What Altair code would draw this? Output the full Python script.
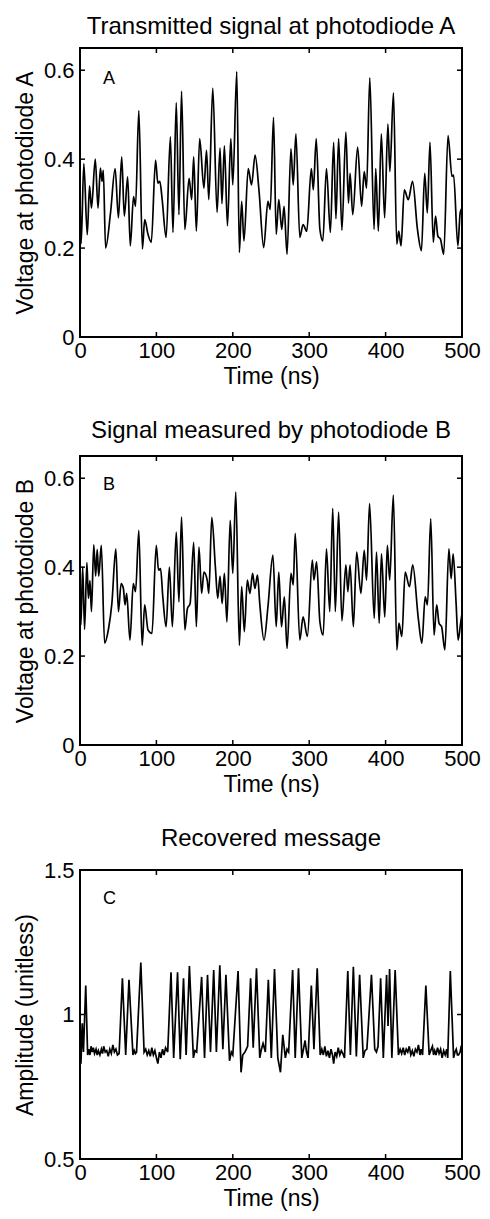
import altair as alt
import pandas as pd

# ---------------- data ----------------
X_TICKS = [0, 100, 200, 300, 400, 500]
Y_TICKS_AB = [0, 0.2, 0.4, 0.6]
Y_TICKS_C = [0.5, 1, 1.5]

PANEL_TITLES = ["Transmitted signal at photodiode A",
                "Signal measured by photodiode B",
                "Recovered message"]
Y_TITLES = ["Voltage at photodiode A", "Voltage at photodiode B", "Amplitude (unitless)"]
X_TITLE = "Time (ns)"
LETTERS = ["A", "B", "C"]

# (time ns, voltage) for photodiode A
SIGNAL_A = [
    (0, 0.32), (1.5, 0.21), (5, 0.39), (9.5, 0.23), (12.5, 0.34), (15, 0.29), (20, 0.40),
    (23.6, 0.29), (26.7, 0.38), (28.8, 0.35), (30.5, 0.375), (33.5, 0.20), (40, 0.28),
    (46, 0.379), (50.3, 0.268), (54.6, 0.405), (58, 0.272), (62.4, 0.36), (65.8, 0.205),
    (70.1, 0.316), (72.7, 0.294), (77, 0.509), (81.7, 0.198), (84.7, 0.264), (89, 0.231),
    (93.3, 0.213), (98.9, 0.398), (101.9, 0.346), (104.5, 0.35), (107.5, 0.31), (112.7, 0.224),
    (118.3, 0.45), (121.7, 0.235), (126, 0.527), (129.5, 0.275), (132.9, 0.553), (137.2, 0.242),
    (142.8, 0.357), (146.2, 0.309), (148.8, 0.405), (152.3, 0.238), (156.6, 0.446), (162.2, 0.335),
    (165.6, 0.42), (168.6, 0.309), (173.8, 0.56), (179.4, 0.28), (183.3, 0.425), (185.8, 0.30),
    (189, 0.43), (193, 0.25), (197.4, 0.446), (200, 0.342), (205.2, 0.597), (208.6, 0.19),
    (211.6, 0.305), (214.6, 0.216), (220.2, 0.379), (224.5, 0.342), (229.2, 0.409), (234.4, 0.327),
    (240.4, 0.201), (246, 0.305), (249, 0.287), (253.3, 0.494), (256.8, 0.231), (260.2, 0.309),
    (264.1, 0.242), (267.1, 0.294), (271, 0.186), (276.1, 0.423), (279.1, 0.342), (282.6, 0.457),
    (287.7, 0.224), (292, 0.253), (296.8, 0.238), (302.8, 0.379), (305.4, 0.331), (309.2, 0.446),
    (314, 0.242), (317.8, 0.216), (322.6, 0.379), (327.7, 0.235), (332, 0.438), (335, 0.266),
    (338.5, 0.446), (342.8, 0.24), (348, 0.461), (351.4, 0.301), (353.5, 0.368), (357, 0.275),
    (363.4, 0.427), (368.6, 0.294), (372, 0.372), (375.1, 0.335), (379.3, 0.583), (384.9, 0.242),
    (387.1, 0.379), (390.5, 0.238), (394.4, 0.457), (398.7, 0.268), (403, 0.479), (405.6, 0.372),
    (410.3, 0.549), (414.6, 0.209), (417.2, 0.238), (420.2, 0.205), (424.5, 0.331), (429.7, 0.309),
    (435.3, 0.35), (441.7, 0.242), (446.9, 0.194), (451.2, 0.368), (454.6, 0.279), (458.1, 0.438),
    (462.4, 0.213), (465.4, 0.272), (468.4, 0.227), (471.8, 0.22), (476.1, 0.186), (481.7, 0.453),
    (486.9, 0.361), (489, 0.364), (494.6, 0.205), (497.6, 0.279), (500, 0.29),
]

# (time ns, voltage) for photodiode B
SIGNAL_B = [
    (0, 0.36), (1.2, 0.27), (3.5, 0.40), (6, 0.26), (9, 0.41), (11, 0.33), (13, 0.37), (15, 0.30),
    (18, 0.45), (20.5, 0.38), (22.5, 0.44), (24.5, 0.38), (27.9, 0.449), (32.2, 0.229),
    (37.4, 0.262), (41.7, 0.318), (46.9, 0.441), (50.3, 0.30), (53.8, 0.363), (56.8, 0.352),
    (58.9, 0.315), (61.1, 0.341), (65.4, 0.236), (69.7, 0.363), (72.7, 0.345), (77, 0.483),
    (81.3, 0.224), (84.7, 0.315), (89, 0.259), (94.2, 0.251), (99.8, 0.449), (102.8, 0.393),
    (105.4, 0.397), (108.4, 0.333), (112.7, 0.266), (117, 0.40), (120.9, 0.266), (126, 0.479),
    (129.5, 0.322), (132.9, 0.513), (137.2, 0.259), (140.6, 0.307), (144.1, 0.318), (148.8, 0.456),
    (152.3, 0.266), (155.7, 0.445), (159.2, 0.341), (162.2, 0.389), (166.5, 0.371), (168.6, 0.341),
    (172.5, 0.512), (177.2, 0.40), (180.3, 0.33), (183.3, 0.38), (186, 0.318), (189, 0.386),
    (192.3, 0.277), (196.6, 0.505), (200, 0.386), (203.9, 0.569), (208.6, 0.224), (211.6, 0.356),
    (215.1, 0.255), (219, 0.371), (222.4, 0.341), (225.9, 0.386), (228.9, 0.352), (232.3, 0.382),
    (235.3, 0.318), (240.9, 0.236), (246, 0.311), (252.5, 0.427), (256.8, 0.266), (260.2, 0.389),
    (263.7, 0.266), (267.5, 0.333), (271, 0.217), (276.1, 0.386), (279.1, 0.36), (281.7, 0.476),
    (287.7, 0.236), (292, 0.288), (297.6, 0.244), (304.1, 0.416), (306.2, 0.371), (309.7, 0.412),
    (314, 0.277), (318.3, 0.247), (322.6, 0.441), (326.9, 0.30), (330.8, 0.532), (334.2, 0.30),
    (338.5, 0.524), (342.8, 0.279), (348, 0.405), (350.6, 0.345), (353.5, 0.405), (357.8, 0.266),
    (362.1, 0.434), (367.7, 0.341), (372, 0.438), (375.1, 0.371), (379, 0.543), (385.1, 0.285),
    (388.1, 0.434), (391.6, 0.274), (394.6, 0.43), (398.9, 0.288), (402.3, 0.449), (405.4, 0.371),
    (410.1, 0.562), (414.8, 0.214), (417.4, 0.274), (421.3, 0.244), (425.6, 0.389), (431.2, 0.356),
    (435.5, 0.405), (442.8, 0.285), (447.5, 0.229), (451.8, 0.333), (454.8, 0.315), (459.1, 0.509),
    (463.4, 0.247), (466.9, 0.315), (469.9, 0.274), (473.3, 0.266), (477.6, 0.214), (482.8, 0.441),
    (485.8, 0.374), (488.4, 0.43), (492.3, 0.318), (494.9, 0.236), (497.9, 0.27), (500, 0.296),
]

# (time ns, amplitude) for the recovered message
SIGNAL_C = [
    (0, 1.0), (1.2, 0.83), (3, 0.97), (4.5, 0.87), (7.5, 1.10), (10, 0.86), (11.5, 0.88),
    (13, 0.86), (14.5, 0.89), (16, 0.87), (17.5, 0.885), (19, 0.865), (21, 0.88), (22.5, 0.86),
    (24, 0.875), (26, 0.86), (28, 0.88), (29.5, 0.865), (31, 0.89), (33, 0.87), (35, 0.875),
    (37, 0.855), (39, 0.88), (41, 0.865), (43, 0.895), (45, 0.87), (47, 0.88), (49, 0.86),
    (51.2, 0.865), (55.5, 1.125), (59.8, 0.86), (64.1, 1.12), (69.3, 0.86), (71, 0.875),
    (72.5, 0.865), (74, 0.87), (79.6, 1.18), (83.9, 0.87), (86, 0.88), (88, 0.86), (90, 0.875),
    (92, 0.855), (94, 0.885), (96, 0.86), (98, 0.875), (100, 0.85), (101.9, 0.83), (104, 0.87),
    (106, 0.85), (108, 0.88), (110, 0.86), (112, 0.885), (114.8, 0.87), (119.1, 1.146),
    (122.6, 0.85), (127.7, 1.146), (131.2, 0.845), (135.5, 1.125), (138.9, 0.86), (143.2, 1.168),
    (148.4, 0.85), (150.5, 0.875), (152.7, 0.87), (159.2, 1.13), (163, 0.85), (166.9, 1.137),
    (170.8, 0.87), (175, 1.154), (178.5, 0.87), (183, 1.17), (187, 0.88), (191, 1.137),
    (195.7, 0.84), (198, 0.87), (200, 0.86), (206.9, 1.15), (210.8, 0.80), (213, 0.86),
    (215.9, 0.87), (219.4, 0.89), (223.3, 1.125), (226.7, 0.885), (231, 1.16), (235.3, 0.85),
    (237.5, 0.88), (239.6, 0.90), (242.6, 0.87), (246.5, 1.12), (250.4, 0.85), (254.6, 1.157),
    (258.9, 0.85), (262.4, 0.80), (265.4, 0.93), (268.8, 0.85), (271, 0.88), (273.1, 0.87),
    (278.3, 1.154), (281.7, 0.85), (286, 1.16), (290.3, 0.85), (292.5, 0.88), (294.6, 0.91),
    (296.5, 0.87), (298.5, 0.85), (302.8, 1.10), (306.2, 0.88), (310.5, 1.16), (314.4, 0.86),
    (316.5, 0.88), (318.5, 0.86), (320.5, 0.89), (322.5, 0.855), (324.5, 0.875), (326.5, 0.85),
    (328.5, 0.88), (330.5, 0.86), (332, 0.83), (334, 0.87), (336, 0.855), (338, 0.885),
    (340, 0.86), (342, 0.875), (344, 0.865), (346.2, 0.85), (350.5, 1.15), (353.9, 0.86),
    (357.8, 1.165), (361.7, 0.855), (366, 1.137), (370.7, 0.85), (373, 0.875), (375.5, 0.88),
    (381.5, 1.137), (385.8, 0.88), (388, 0.87), (390.1, 0.89), (393.5, 1.125), (397, 0.85),
    (401.3, 1.137), (403.2, 0.96), (405.2, 1.157), (408.2, 0.85), (412.5, 1.154), (416.8, 0.86),
    (419, 0.88), (421, 0.865), (423, 0.885), (425, 0.86), (427, 0.88), (429, 0.87), (431, 0.89),
    (433, 0.86), (435, 0.875), (437, 0.855), (439, 0.88), (441, 0.87), (443, 0.895), (445, 0.86),
    (446.5, 0.88), (448.4, 0.86), (452.7, 1.10), (457, 0.86), (459, 0.875), (461.3, 0.89),
    (462.8, 0.86), (464.3, 0.875), (466, 0.86), (468, 0.885), (470, 0.865), (472, 0.88),
    (474, 0.85), (476, 0.875), (478, 0.86), (480, 0.88), (481.3, 0.85), (484.7, 1.15),
    (489, 0.85), (490.8, 0.87), (492.5, 0.88), (494, 0.86), (495.5, 0.86), (497.5, 0.87),
    (498.9, 0.89), (500, 0.89),
]

LETTER_POS = [(30, 0.58), (30, 0.585), (30, 1.40)]
Y_DOMAINS = [[0, 0.65], [0, 0.65], [0.5, 1.5]]
Y_TICKS = [Y_TICKS_AB, Y_TICKS_AB, Y_TICKS_C]
SIGNALS = [SIGNAL_A, SIGNAL_B, SIGNAL_C]
INTERP = ["monotone", "monotone", "linear"]

# ---------------- styling ----------------
W, H = 382, 289
FONT = "Liberation Sans"
TITLE_FS = 24
AXIS_TITLE_FS = 23
LABEL_FS = 22
TITLE_OFFSETS = [8, 12, 8]
TICK = 5


def panel(i):
    df = pd.DataFrame(SIGNALS[i], columns=["t", "v"])
    yticks = Y_TICKS[i]
    xenc = alt.X("t:Q", scale=alt.Scale(domain=[0, 500], nice=False, zero=False),
                 axis=alt.Axis(values=X_TICKS, title=X_TITLE, format="d", labelFlush=False))
    yenc = alt.Y("v:Q", scale=alt.Scale(domain=Y_DOMAINS[i], nice=False, zero=False),
                 axis=alt.Axis(values=yticks, title=Y_TITLES[i], format="~g", labelFlush=False))

    line = alt.Chart(df).mark_line(
        color="black", strokeWidth=1.7, interpolate=INTERP[i], clip=True
    ).encode(x=xenc, y=yenc)

    lab_df = pd.DataFrame({"t": [LETTER_POS[i][0]], "v": [LETTER_POS[i][1]], "s": [LETTERS[i]]})
    lab = alt.Chart(lab_df).mark_text(
        font=FONT, fontSize=18, align="left", baseline="middle", color="black"
    ).encode(x=xenc, y=yenc, text="s:N")

    xt = pd.DataFrame({"t": X_TICKS[1:-1]})
    yt = pd.DataFrame({"v": yticks[1:]})
    bot = alt.Chart(xt).mark_rule(color="black", strokeWidth=1.5).encode(
        x=xenc, y=alt.value(H), y2=alt.value(H - TICK))
    top = alt.Chart(xt).mark_rule(color="black", strokeWidth=1.5).encode(
        x=xenc, y=alt.value(0), y2=alt.value(TICK))
    left = alt.Chart(yt).mark_rule(color="black", strokeWidth=1.5).encode(
        y=yenc, x=alt.value(0), x2=alt.value(TICK))
    right = alt.Chart(yt).mark_rule(color="black", strokeWidth=1.5).encode(
        y=yenc, x=alt.value(W), x2=alt.value(W - TICK))

    return alt.layer(line, lab, bot, top, left, right).properties(
        width=W, height=H,
        title=alt.TitleParams(PANEL_TITLES[i], font=FONT, fontSize=TITLE_FS, fontWeight="normal",
                              anchor="middle", frame="group", offset=TITLE_OFFSETS[i],
                              color="black"),
    )


chart = alt.vconcat(panel(0), panel(1), panel(2), spacing=29).configure_view(
    stroke="black", strokeWidth=2
).configure_axis(
    domain=False, ticks=False, grid=False,
    labelFont=FONT, labelFontSize=LABEL_FS, labelColor="black", labelPadding=3,
    titleFont=FONT, titleFontSize=AXIS_TITLE_FS, titleFontWeight="normal", titleColor="black",
    titlePadding=4,
).configure_axisY(
    labelPadding=6, titlePadding=6
).properties(
    background="white", padding={"left": 5, "top": 6, "right": 0, "bottom": 0}
)

chart.save("out.html", embed_options={"renderer": "svg", "actions": False})
